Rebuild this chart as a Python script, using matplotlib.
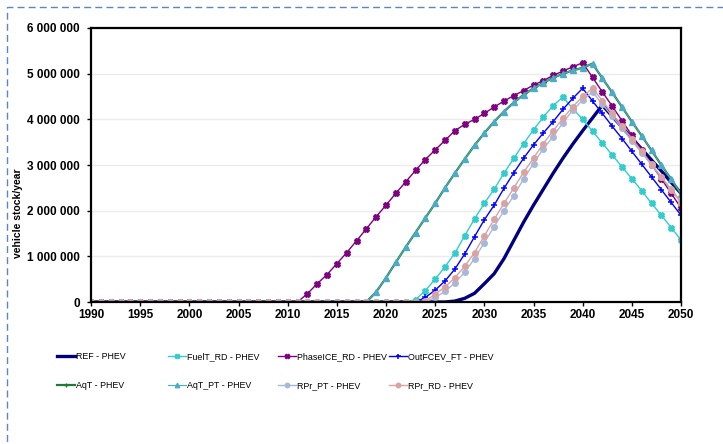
import numpy as np
import matplotlib
matplotlib.use('Agg')
import matplotlib.pyplot as plt
from matplotlib.patches import Rectangle
from matplotlib.ticker import FuncFormatter, MultipleLocator

plt.rcParams['font.family'] = ['Liberation Sans', 'DejaVu Sans']

# data (million vehicles per year), 1990..2050
years = list(range(1990, 2051))

ref = [0] * 37 + [0.02, 0.08, 0.19, 0.4, 0.62, 0.95, 1.35, 1.75, 2.12, 2.47, 2.82, 3.15, 3.46, 3.75, 4.03, 4.31,
                  4.07, 3.83, 3.59, 3.35, 3.11, 2.87, 2.62, 2.38]
fuelt_rd = [0] * 33 + [0.05, 0.25, 0.5, 0.77, 1.07, 1.45, 1.82, 2.16, 2.47, 2.82, 3.15, 3.47, 3.77, 4.05, 4.3, 4.49,
                       4.23, 4.0, 3.74, 3.48, 3.22, 2.96, 2.7, 2.44, 2.16, 1.9, 1.63, 1.36]
phaseice_rd = [0] * 22 + [0.18, 0.4, 0.6, 0.84, 1.08, 1.34, 1.6, 1.87, 2.12, 2.38, 2.63, 2.88, 3.12, 3.33, 3.54,
                          3.75, 3.89, 4.0, 4.13, 4.27, 4.4, 4.52, 4.63, 4.75, 4.85, 4.96, 5.06, 5.15, 5.24,
                          4.92, 4.6, 4.29, 3.97, 3.65, 3.33, 3.01, 2.7, 2.38, 2.06]
outfcev_ft = [0] * 34 + [0.1, 0.26, 0.46, 0.72, 1.05, 1.43, 1.8, 2.12, 2.49, 2.83, 3.15, 3.44, 3.7, 3.95, 4.22, 4.46,
                         4.68, 4.4, 4.13, 3.85, 3.58, 3.3, 3.02, 2.74, 2.46, 2.18, 1.9]
aqt = [0] * 29 + [0.22, 0.53, 0.87, 1.2, 1.52, 1.84, 2.16, 2.5, 2.82, 3.13, 3.43, 3.7, 3.95, 4.17, 4.37, 4.54, 4.68,
                  4.8, 4.91, 5.0, 5.07, 5.13, 5.22, 4.9, 4.59, 4.27, 3.95, 3.64, 3.32, 3.0, 2.69, 2.37]
aqt_pt = [0] * 29 + [0.22, 0.53, 0.87, 1.2, 1.52, 1.84, 2.16, 2.5, 2.82, 3.13, 3.43, 3.7, 3.95, 4.17, 4.37, 4.54, 4.68,
                     4.8, 4.91, 5.0, 5.07, 5.13, 5.22, 4.9, 4.59, 4.27, 3.95, 3.64, 3.32, 3.0, 2.69, 2.37]
rpr_pt = [0] * 35 + [0.1, 0.23, 0.42, 0.65, 0.95, 1.3, 1.65, 2.0, 2.33, 2.7, 3.03, 3.36, 3.62, 3.93, 4.2, 4.42, 4.6,
                     4.33, 4.07, 3.8, 3.53, 3.27, 3.0, 2.73, 2.47, 2.2]
rpr_rd = [0] * 34 + [0.02, 0.17, 0.33, 0.53, 0.78, 1.08, 1.45, 1.81, 2.16, 2.5, 2.84, 3.15, 3.47, 3.75, 4.02, 4.28,
                     4.5, 4.68, 4.41, 4.13, 3.85, 3.58, 3.3, 3.02, 2.74, 2.46, 2.17]

labels = ['REF - PHEV', 'FuelT_RD - PHEV', 'PhaseICE_RD - PHEV', 'OutFCEV_FT - PHEV',
          'AqT - PHEV', 'AqT_PT - PHEV', 'RPr_PT - PHEV', 'RPr_RD - PHEV']

fig = plt.figure(figsize=(7.23, 4.44), dpi=100)
ax = fig.add_axes([91 / 723, 1 - 302 / 444, 590 / 723, 274 / 444])

def m(v):
    return np.array(v) * 1e6

h = []
h += ax.plot(years, m(ref), color='#000080', lw=2.4, label=labels[0])
h += ax.plot(years, m(fuelt_rd), color='#33CCCC', lw=1, marker='X', ms=4, label=labels[1])
h += ax.plot(years, m(phaseice_rd), color='#800080', lw=1, marker='X', ms=4, label=labels[2])
h += ax.plot(years, m(outfcev_ft), color='#0000FF', lw=1, marker='+', ms=4.5, mew=1.1, label=labels[3])
h += ax.plot(years, m(aqt), color='#3A9A5A', lw=1.6, marker='+', ms=3, label=labels[4])
h += ax.plot(years, m(aqt_pt), color='#4BACC6', lw=0.8, marker='^', ms=4, label=labels[5])
h += ax.plot(years, m(rpr_pt), color='#A7B9DA', lw=1, marker='o', ms=4, label=labels[6])
h += ax.plot(years, m(rpr_rd), color='#D9A3A3', lw=1, marker='o', ms=4, label=labels[7])
# legend of AqT in dark green
h[4].set_color('#1E7A3A')

ax.set_xlim(1990, 2050)
ax.set_ylim(0, 6e6)
ax.xaxis.set_major_locator(MultipleLocator(5))
ax.yaxis.set_major_locator(MultipleLocator(1e6))
ax.yaxis.set_major_formatter(FuncFormatter(lambda v, p: f"{int(v):,}".replace(',', ' ')))
ax.grid(axis='y', color='#EBEBEB', lw=1)
ax.set_axisbelow(True)
for s in ax.spines.values():
    s.set_linewidth(1.6)
    s.set_color('black')
ax.tick_params(direction='out', length=3, width=1, labelsize=8.5)
ax.tick_params(axis='y', pad=5)
ax.tick_params(axis='x', pad=2)
for t in ax.get_xticklabels() + ax.get_yticklabels():
    t.set_fontweight('bold')

fig.text(18 / 723, 1 - 213 / 444, 'vehicle stock/year', rotation=90, ha='center', va='center',
         fontsize=7.5, fontweight='bold')

# legend in 4 columns
col_x = [57, 168, 278, 389]
for i, x in enumerate(col_x):
    leg = fig.legend([h[i], h[i + 4]], [labels[i], labels[i + 4]], loc='center left',
                     bbox_to_anchor=(x / 723, 1 - 371 / 444), frameon=False, fontsize=6.4,
                     handlelength=2.0, handletextpad=0.15, labelspacing=2.3,
                     borderpad=0, borderaxespad=0, markerscale=0.8)

# dashed border of the chart area
fig.patches.append(Rectangle((7 / 723, -0.2), 1.2, 1.2 - 7 / 444, transform=fig.transFigure,
                             fill=False, ec='#5B86C5', lw=1, ls=(0, (5, 3)), clip_on=False))

fig.savefig('out.png', dpi=100)
